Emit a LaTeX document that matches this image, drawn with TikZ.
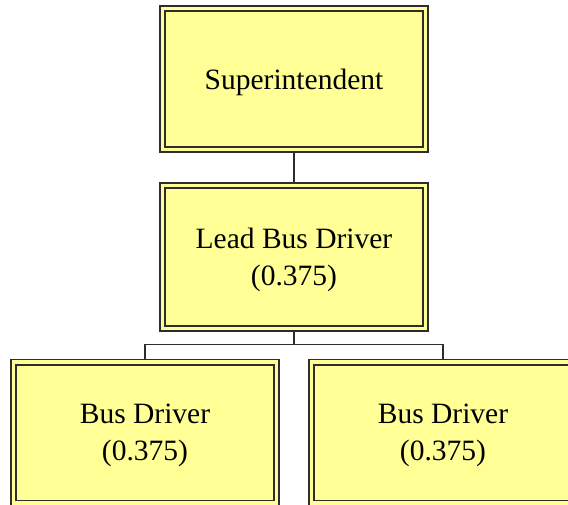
\documentclass[tikz,border=0pt]{standalone}
\usepackage{fontspec}
\setmainfont{Liberation Serif}
\usetikzlibrary{positioning}

\definecolor{boxfill}{RGB}{255,255,150}
\definecolor{boxline}{RGB}{45,45,45}

\begin{document}
\begin{tikzpicture}[x=1pt, y=-1pt,
	every node/.style={draw=boxline, line width=1.6pt, double=boxfill, double distance=3.6pt, fill=boxfill,
		minimum width=263pt, minimum height=141pt, inner sep=0pt, outer sep=3.4pt, align=center,
		text depth=0pt, font=\fontsize{29.5}{37}\selectfont},
	link/.style={draw=boxline, line width=1.5pt}]
	\useasboundingbox (0,0) rectangle (568,504);
	\node (super) at (294,79) {Superintendent};
	\node[below=29pt of super, minimum height=143pt] (lead) {Lead Bus Driver\\(0.375)};
	\node[below=27pt of lead, xshift=-149pt, minimum height=141pt, text depth=-5pt] (drvA) {Bus Driver\\(0.375)};
	\node[below=27pt of lead, xshift=149pt, minimum height=141pt, text depth=-5pt] (drvB) {Bus Driver\\(0.375)};
	\draw[link] (super) -- (lead);
	\draw[link] (lead.south) -- ++(0,13) -| (drvA.north);
	\draw[link] (lead.south) -- ++(0,13) -| (drvB.north);
\end{tikzpicture}
\end{document}
